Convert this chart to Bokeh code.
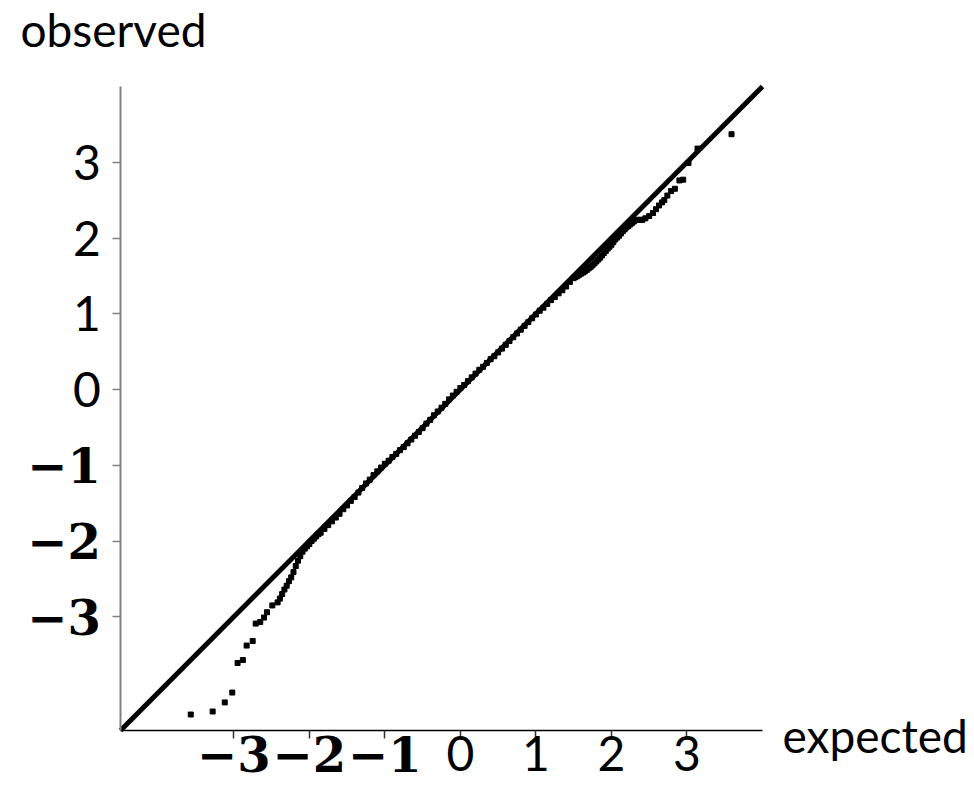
from bokeh.plotting import figure
from bokeh.models import Range1d, Label, FixedTicker, LinearAxis
from bokeh.embed import file_html
from bokeh.resources import INLINE

# ---- data ----
expected = [
    -3.57, -3.28, -3.12, -3.02, -2.95, -2.88, -2.83, -2.75, -2.71, -2.65,
    -2.60, -2.56, -2.49, -2.42, -2.39, -2.36, -2.33, -2.30, -2.27, -2.24,
    -2.21, -2.18, -2.15, -2.12, -2.09, -2.06, -2.03, -2.00, -1.97, -1.94,
    -1.91, -1.88,
    -1.85, -1.80, -1.75, -1.70, -1.65, -1.60, -1.55, -1.50, -1.45, -1.40,
    -1.35, -1.30, -1.25, -1.20, -1.15, -1.10, -1.05, -1.00, -0.95, -0.90,
    -0.85, -0.80, -0.75, -0.70, -0.65, -0.60, -0.55, -0.50, -0.45, -0.40,
    -0.35, -0.30, -0.25, -0.20, -0.15, -0.10, -0.05, 0.00, 0.05, 0.10,
    0.15, 0.20, 0.25, 0.30, 0.35, 0.40, 0.45, 0.50, 0.55, 0.60,
    0.65, 0.70, 0.75, 0.80, 0.85, 0.90, 0.95, 1.00, 1.05, 1.10,
    1.15, 1.20, 1.25, 1.30, 1.35, 1.40, 1.45,
    1.50, 1.525, 1.55, 1.575, 1.60, 1.625, 1.65, 1.675, 1.70, 1.725,
    1.75, 1.775, 1.80, 1.825, 1.85, 1.875, 1.90, 1.925, 1.95, 1.975,
    2.00, 2.025, 2.05, 2.075, 2.10, 2.125, 2.15, 2.175, 2.20, 2.225,
    2.25, 2.275, 2.30, 2.34, 2.38, 2.41,
    2.45, 2.50, 2.55, 2.59, 2.63, 2.67, 2.70, 2.74, 2.79, 2.84,
    2.90, 2.95, 3.02, 3.14, 3.59,
]
observed = [
    -4.29, -4.25, -4.13, -4.00, -3.61, -3.57, -3.38, -3.32, -3.09, -3.07,
    -3.01, -2.94, -2.85, -2.81, -2.76, -2.70, -2.64, -2.59, -2.53, -2.48,
    -2.41, -2.33, -2.26, -2.20, -2.14, -2.10, -2.07, -2.04, -2.00, -1.97,
    -1.94, -1.91,
    -1.89, -1.84, -1.79, -1.74, -1.69, -1.64, -1.58, -1.53, -1.47, -1.42,
    -1.36, -1.30, -1.24, -1.19, -1.13, -1.08, -1.03, -0.98, -0.94, -0.89,
    -0.85, -0.80, -0.76, -0.71, -0.66, -0.61, -0.56, -0.51, -0.45, -0.40,
    -0.34, -0.29, -0.24, -0.19, -0.13, -0.08, -0.03, 0.02, 0.06, 0.11,
    0.16, 0.21, 0.26, 0.30, 0.35, 0.40, 0.44, 0.49, 0.54, 0.59,
    0.64, 0.69, 0.74, 0.79, 0.84, 0.89, 0.94, 0.99, 1.04, 1.08,
    1.13, 1.18, 1.22, 1.27, 1.31, 1.36, 1.42,
    1.47, 1.485, 1.50, 1.515, 1.53, 1.545, 1.56, 1.58, 1.60, 1.62,
    1.64, 1.665, 1.69, 1.715, 1.74, 1.77, 1.80, 1.83, 1.86, 1.885,
    1.91, 1.945, 1.98, 2.005, 2.03, 2.06, 2.09, 2.115, 2.14, 2.16,
    2.18, 2.20, 2.22, 2.24, 2.24, 2.24,
    2.26, 2.29, 2.33, 2.38, 2.43, 2.47, 2.50, 2.56, 2.62, 2.65,
    2.76, 2.77, 2.99, 3.18, 3.37,
]
reference_line = [-4.5, 4.0]
axis_bounds = (-4.5, 4.0)
ticks = [-3, -2, -1, 0, 1, 2, 3]
tick_labels = ["\u22123", "\u22122", "\u22121", "0", "1", "2", "3"]
x_title = "expected"
y_title = "observed"

# ---- figure: the frame fills the canvas, axes are pinned at -4.5 ----
p = figure(width=974, height=790, output_backend="svg", toolbar_location=None,
           x_range=Range1d(-6.089, 6.807), y_range=Range1d(-5.293, 5.135),
           x_axis_location=None, y_axis_location=None,
           min_border=0, min_border_left=0, min_border_right=0,
           min_border_top=0, min_border_bottom=0)
p.outline_line_color = None
p.grid.visible = False
p.background_fill_color = "white"
p.border_fill_color = "white"

xax = LinearAxis(fixed_location=axis_bounds[0], bounds=axis_bounds,
                 ticker=FixedTicker(ticks=ticks))
yax = LinearAxis(fixed_location=axis_bounds[0], bounds=axis_bounds,
                 ticker=FixedTicker(ticks=ticks))
for ax in (xax, yax):
    ax.major_label_overrides = {t: "" for t in ticks}
    ax.major_label_text_font_size = "1px"
    ax.minor_tick_line_color = None
    ax.major_tick_out = 8
    ax.major_tick_in = 0
xax.axis_line_color = "black"
xax.axis_line_width = 1.5
xax.major_tick_line_color = "#333333"
xax.major_tick_line_width = 1.5
yax.axis_line_color = "#808080"
yax.axis_line_width = 2
yax.major_tick_line_color = "#808080"
yax.major_tick_line_width = 1.5
p.add_layout(xax, "below")
p.add_layout(yax, "left")

p.line(reference_line, reference_line, line_color="black", line_width=5)
p.scatter(expected, observed, marker="square", size=5,
          fill_color="black", line_color="black")

# ---- tick labels (negatives bold serif, others sans) ----
for t, lab in zip(ticks, tick_labels):
    neg = t < 0
    font = "DejaVu Serif" if neg else "Lato"
    style = "bold" if neg else "normal"
    size = "48px" if neg else "48px"
    p.add_layout(Label(x=t, y=-4.567, text=lab, text_align="center",
                       text_baseline="top", text_font=font,
                       text_font_style=style, text_font_size=size,
                       text_color="black"))
    p.add_layout(Label(x=-4.76, y=t, text=lab, text_align="right",
                       text_baseline="middle", text_font=font,
                       text_font_style=style, text_font_size=size,
                       text_color="black"))

p.add_layout(Label(x=-5.824, y=4.75, text=y_title, text_align="left",
                   text_baseline="alphabetic", text_font="Lato",
                   text_font_size="46px", text_color="black"))
p.add_layout(Label(x=4.265, y=-4.57, text=x_title, text_align="left",
                   text_baseline="alphabetic", text_font="Lato",
                   text_font_size="46px", text_color="black"))

open("out.html", "w").write(file_html(p, INLINE))
